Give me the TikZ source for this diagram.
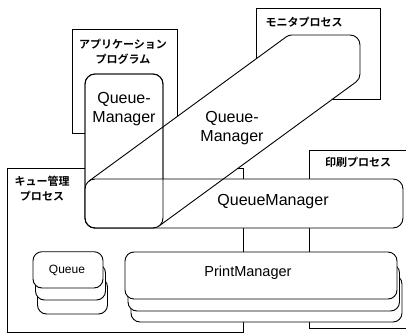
\documentclass[tikz,border=0pt]{standalone}
\usepackage{fontspec}
\setmainfont{Liberation Sans}
\newfontfamily\jp{Noto Sans CJK JP}[BoldFont={* Bold}]
\begin{document}
\begin{tikzpicture}[x=1pt,y=1pt,
  line width=0.9pt,
  procbox/.style={draw},
  qm/.style={draw,fill=white,rounded corners=10pt},
  stackbox/.style={draw,fill=white,rounded corners=9pt},
  jplabel/.style={font=\jp\bfseries\fontsize{11}{15}\selectfont,align=center,inner sep=0pt},
  mlabel/.style={font=\fontsize{16}{19}\selectfont,align=center,inner sep=0pt}]
\useasboundingbox (0,0) rectangle (406,333);
% process boxes
\draw[procbox] (72,200) rectangle (177,304);
\draw[procbox] (256,234) rectangle (380,325);
\draw[procbox] (7,1) rectangle (243,165);
\draw[procbox] (410,183) -- (309,183) -- (309,5) -- (410,5);
\node[jplabel] (applbl) at (123,281) {アプリケーション\\プログラム};
\node[jplabel] (monlbl) at (304,311) {モニタプロセス};
\node[jplabel] (prtlbl) at (358,171) {印刷プロセス};
\node[jplabel] (qlbl) at (42,144) {キュー管理\\プロセス};
% white fill of shared QueueManager
\fill[white] (89.1,152.07) -- (286.1,296.07) arc[start angle=126.2,end angle=90,radius=10]
  -- (350,298) arc[start angle=90,end angle=0,radius=10]
  -- (360,259) arc[start angle=0,end angle=-53.8,radius=10] -- (158.9,106.93) -- cycle;
\draw[qm] (85,105) rectangle (163,259);
\draw[qm] (85,105) rectangle (403,154);
\draw (89.1,152.07) -- (286.1,296.07) arc[start angle=126.2,end angle=90,radius=10]
  -- (350,298) arc[start angle=90,end angle=0,radius=10]
  -- (360,259) arc[start angle=0,end angle=-53.8,radius=10] -- (158.9,106.93);
\draw[rounded corners=10pt] (85,105) rectangle (163,259);
\node[mlabel] (qmapp) at (124,224) {Queue-\\Manager};
\node[mlabel] (qmmon) at (232,205) {Queue-\\Manager};
\node[mlabel] (qmmain) at (273,131) {QueueManager};
% Queue stack
\draw[stackbox] (37.5,19) rectangle (107.5,55);
\draw[stackbox] (35.5,33) rectangle (105.5,69);
\draw[stackbox] (33,45) rectangle (103,81.3);
\node[font=\fontsize{12}{14}\selectfont,inner sep=0pt] (queue) at (67,63) {Queue};
% PrintManager stack
\draw[stackbox] (131,11) rectangle (402,58);
\draw[stackbox] (128,22) rectangle (399.5,69);
\draw[stackbox] (125,34) rectangle (397,81);
\node[font=\fontsize{14.5}{17}\selectfont,inner sep=0pt] (pm) at (248,60) {PrintManager};
\end{tikzpicture}
\end{document}
